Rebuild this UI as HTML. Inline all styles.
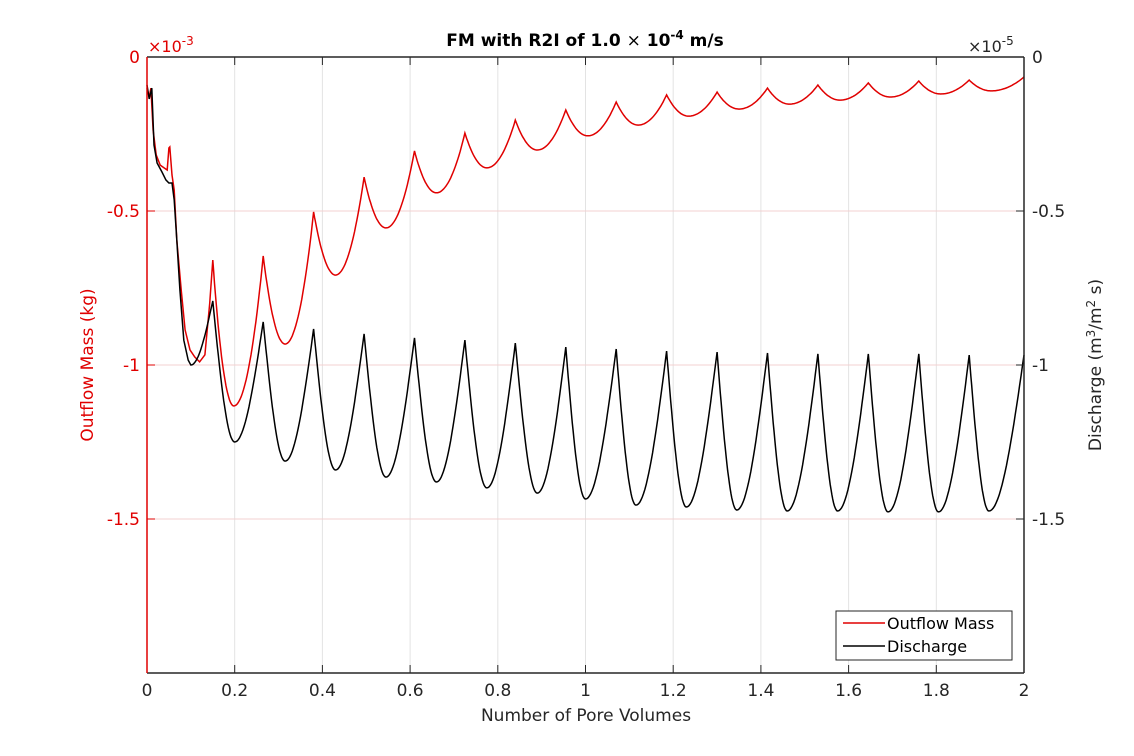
<!DOCTYPE html>
<html><head><meta charset="utf-8"><style>
body{margin:0;background:#fff;}
svg{display:block;font-family:"DejaVu Sans","Liberation Sans",sans-serif;}
</style></head><body>
<svg id="chart" width="1134" height="756" viewBox="0 0 1134 756" xmlns="http://www.w3.org/2000/svg">
<rect width="1134" height="756" fill="#fff"/>
<g id="grid"></g>
<g id="series"></g>
<g id="axes"></g>
<text x="585" y="46" text-anchor="middle" font-size="17" font-weight="bold" fill="#000">FM with R2I of 1.0 <tspan font-weight="normal">×</tspan> 10<tspan dy="-7" font-size="12">-4</tspan><tspan dy="7"> m/s</tspan></text>
<text x="148" y="52" font-size="16" fill="#e00000">×10<tspan dy="-7" font-size="12">-3</tspan></text>
<text x="968" y="52" font-size="16" fill="#262626">×10<tspan dy="-7" font-size="12">-5</tspan></text>
<text x="586" y="721" text-anchor="middle" font-size="17" fill="#262626">Number of Pore Volumes</text>
<text transform="translate(93,365) rotate(-90)" text-anchor="middle" font-size="17" fill="#e00000">Outflow Mass (kg)</text>
<text transform="translate(1101,365) rotate(-90)" text-anchor="middle" font-size="17" fill="#262626">Discharge (m<tspan dy="-6" font-size="12">3</tspan><tspan dy="6">/m</tspan><tspan dy="-6" font-size="12">2</tspan><tspan dy="6"> s)</tspan></text>
<g>
<rect x="836" y="611" width="176" height="49" fill="#fff" stroke="#262626" stroke-width="1"/>
<line x1="843" y1="623" x2="885" y2="623" stroke="#e00000" stroke-width="1.5"/>
<text x="887" y="629" font-size="16" fill="#000">Outflow Mass</text>
<line x1="843" y1="646" x2="885" y2="646" stroke="#000" stroke-width="1.5"/>
<text x="887" y="652" font-size="16" fill="#000">Discharge</text>
</g>
</svg>
<script>
const xTicks=[0,0.2,0.4,0.6,0.8,1,1.2,1.4,1.6,1.8,2];
const xTickLabels=["0","0.2","0.4","0.6","0.8","1","1.2","1.4","1.6","1.8","2"];
const yTicks=[0,-0.5,-1,-1.5];
const yTickLabels=["0","-0.5","-1","-1.5"];
// Outflow mass (x1e-3 kg)
const redEarlyX=[0,0.005,0.009,0.014,0.021,0.030,0.039,0.046,0.050,0.052,0.057,0.062,0.068,0.078,0.087,0.098,0.109,0.12,0.132,0.143];
const redEarlyY=[-0.101,-0.130,-0.101,-0.237,-0.318,-0.351,-0.360,-0.367,-0.295,-0.292,-0.383,-0.432,-0.594,-0.756,-0.886,-0.951,-0.974,-0.990,-0.967,-0.80];
const redPeakX=[0.15,0.265,0.38,0.495,0.61,0.725,0.84,0.955,1.07,1.185,1.30,1.415,1.53,1.645,1.76,1.875,2.0];
const redPeakY=[-0.659,-0.646,-0.503,-0.390,-0.305,-0.247,-0.205,-0.172,-0.146,-0.123,-0.114,-0.101,-0.091,-0.084,-0.078,-0.075,-0.065];
const redTroughX=[0.198,0.315,0.43,0.545,0.66,0.775,0.89,1.005,1.12,1.235,1.35,1.465,1.58,1.695,1.81,1.925];
const redTroughY=[-1.133,-0.932,-0.708,-0.555,-0.441,-0.360,-0.302,-0.256,-0.221,-0.192,-0.169,-0.153,-0.140,-0.130,-0.120,-0.110];
// Discharge (x1e-5)
const blkEarlyX=[0,0.005,0.011,0.016,0.023,0.034,0.043,0.050,0.057,0.062,0.068,0.075,0.084,0.094];
const blkEarlyY=[-0.091,-0.136,-0.101,-0.286,-0.344,-0.373,-0.399,-0.409,-0.409,-0.464,-0.594,-0.756,-0.919,-0.984];
const blkTroughX=[0.1,0.2,0.315,0.43,0.545,0.66,0.775,0.89,1.0,1.115,1.23,1.345,1.46,1.575,1.69,1.805,1.92];
const blkTroughY=[-1.0,-1.25,-1.312,-1.341,-1.364,-1.380,-1.399,-1.416,-1.435,-1.455,-1.461,-1.471,-1.474,-1.474,-1.477,-1.477,-1.474];
const blkPeakX=[0.15,0.265,0.38,0.495,0.61,0.725,0.84,0.955,1.07,1.185,1.30,1.415,1.53,1.645,1.76,1.875,2.0];
const blkPeakY=[-0.792,-0.860,-0.883,-0.899,-0.912,-0.919,-0.929,-0.942,-0.948,-0.955,-0.958,-0.961,-0.964,-0.964,-0.964,-0.968,-0.968];

const X0=147,X1=1024,Y0=57,Y1=673;
const sx=v=>X0+(v-0)/(2-0)*(X1-X0);
const sy=v=>Y0+(0-v)/(2)*(Y1-Y0);
const NS="http://www.w3.org/2000/svg";
function mk(tag,attrs,parent){const e=document.createElementNS(NS,tag);for(const k in attrs)e.setAttribute(k,attrs[k]);parent.appendChild(e);return e;}
const grid=document.getElementById('grid'),axes=document.getElementById('axes'),series=document.getElementById('series');
xTicks.forEach((t,i)=>{
  if(t>0&&t<2){const g=mk('line',{x1:sx(t),x2:sx(t),y1:Y0,y2:Y1,stroke:'#e3e3e3','stroke-width':1},grid);
  
  }
  const a=mk('line',{x1:sx(t),x2:sx(t),y1:Y1,y2:Y1-8,stroke:'#262626'},axes);
  
  
  const b=mk('line',{x1:sx(t),x2:sx(t),y1:Y0,y2:Y0+8,stroke:'#262626'},axes);
  
  
  const l=mk('text',{x:sx(t),y:Y1+23,'text-anchor':'middle','font-size':17,fill:'#262626'},axes);
  l.textContent=xTickLabels[i];
  
  
});
yTicks.forEach((t,i)=>{
  if(t<0){const g=mk('line',{x1:X0,x2:X1,y1:sy(t),y2:sy(t),stroke:'#f3d0d0','stroke-width':1},grid);
  
  }
  const a=mk('line',{x1:X0,x2:X0+8,y1:sy(t),y2:sy(t),stroke:'#e00000'},axes);
  
  
  const b=mk('line',{x1:X1,x2:X1-8,y1:sy(t),y2:sy(t),stroke:'#262626'},axes);
  
  
  const l=mk('text',{x:X0-7,y:sy(t)+6,'text-anchor':'end','font-size':17,fill:'#e00000'},axes);
  l.textContent=yTickLabels[i];
  
  
  const r=mk('text',{x:X1+8,y:sy(t)+6,'font-size':17,fill:'#262626'},axes);
  r.textContent=yTickLabels[i];
  
  
});
const frame=[[X0,Y0,X1,Y0,'#262626'],[X0,Y1,X1,Y1,'#262626'],[X1,Y0,X1,Y1,'#262626'],[X0,Y0,X0,Y1,'#e00000']];
frame.forEach(f=>{const e=mk('line',{x1:f[0],y1:f[1],x2:f[2],y2:f[3],stroke:f[4],'stroke-width':1.5},axes);
  
  });

function seg(pts,xa,ya,xb,yb,shape){const n=24;for(let k=1;k<=n;k++){const t=k/n;pts.push([xa+(xb-xa)*t,ya+(yb-ya)*shape(t)]);}}
let rp=redEarlyX.map((x,i)=>[x,redEarlyY[i]]);
rp.push([redPeakX[0],redPeakY[0]]);
for(let i=0;i<redTroughX.length;i++){
  seg(rp,redPeakX[i],redPeakY[i],redTroughX[i],redTroughY[i],t=>1-(1-t)*(1-t));
  seg(rp,redTroughX[i],redTroughY[i],redPeakX[i+1],redPeakY[i+1],t=>t*t);
}
let bp=blkEarlyX.map((x,i)=>[x,blkEarlyY[i]]);
bp.push([blkTroughX[0],blkTroughY[0]]);
for(let i=0;i<blkPeakX.length;i++){
  seg(bp,blkTroughX[i],blkTroughY[i],blkPeakX[i],blkPeakY[i],t=>1-Math.cos(Math.PI*t/2));
  if(i+1<blkTroughX.length) seg(bp,blkPeakX[i],blkPeakY[i],blkTroughX[i+1],blkTroughY[i+1],t=>Math.sin(Math.PI*t/2));
}
const pr=mk('polyline',{points:rp.map(p=>sx(p[0]).toFixed(1)+','+sy(p[1]).toFixed(1)).join(' '),fill:'none',stroke:'#e00000','stroke-width':1.5},series);


const pb=mk('polyline',{points:bp.map(p=>sx(p[0]).toFixed(1)+','+sy(p[1]).toFixed(1)).join(' '),fill:'none',stroke:'#000','stroke-width':1.5},series);


</script>
</body></html>
